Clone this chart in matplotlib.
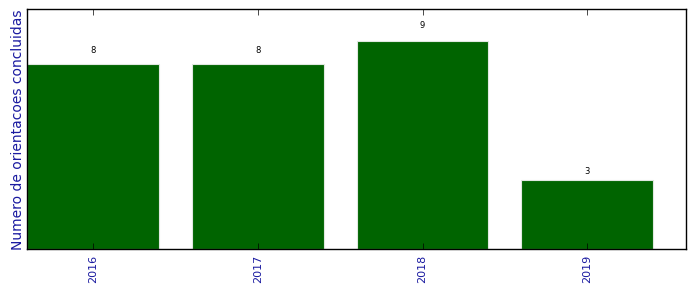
import matplotlib
matplotlib.use("Agg")
import matplotlib.pyplot as plt
import numpy as np

anos = ["2016", "2017", "2018", "2019"]
orientacoes = [8, 8, 9, 3]

plt.style.use("classic")
fig = plt.figure(figsize=(6.96, 2.92), dpi=100)
ax = fig.add_axes([0.0395, 0.1462, 0.946, 0.8213])

x = np.arange(len(anos))
bars = ax.bar(x, orientacoes, width=0.8, align="edge", color="#006400", edgecolor="#e0e8e0", linewidth=0.8)

for b, v in zip(bars, orientacoes):
    ax.text(b.get_x() + b.get_width() / 2, v * 1.05, str(v), ha="center", va="bottom", fontsize=6)

ax.set_xlim(0, len(anos))
ax.set_ylim(0, max(orientacoes) * 1.15)
ax.set_xticks(x + 0.4)
ax.set_xticklabels(anos, rotation=90, color="#1a1aa0", fontsize=8)
ax.set_yticks([])
ax.set_ylabel("Numero de orientacoes concluidas", color="#1a1aa0", fontsize=10, labelpad=2)

fig.savefig("out.png", dpi=100)
